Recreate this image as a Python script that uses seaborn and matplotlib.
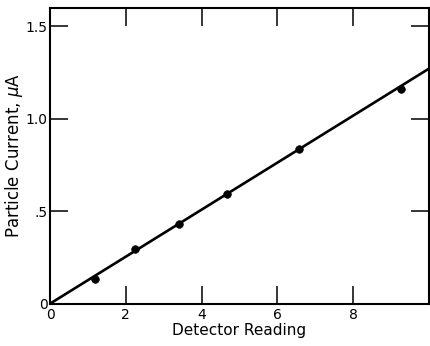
import matplotlib
matplotlib.use("Agg")
import matplotlib.pyplot as plt
import seaborn as sns
import pandas as pd

# Measured calibration points
detector_reading = [1.2, 2.25, 3.4, 4.66, 6.58, 9.25]
particle_current = [0.134, 0.296, 0.429, 0.595, 0.836, 1.159]

# Straight-line calibration through the origin
fit_x = [0.0, 10.0]
fit_y = [0.0, 1.272]

x_ticks = [0, 2, 4, 6, 8]
x_tick_labels = ["0", "2", "4", "6", "8"]
y_ticks = [0, 0.5, 1.0, 1.5]
y_tick_labels = ["0", ".5", "1.0", "1.5"]

sns.set_theme(style="ticks")
plt.rcParams["font.family"] = ["DejaVu Sans"]

fig = plt.figure(figsize=(4.3, 3.46), dpi=100)
ax = fig.add_axes([0.1163, 0.1223, 0.8814, 0.8546])

points = pd.DataFrame({"reading": detector_reading, "current": particle_current})
fit = pd.DataFrame({"reading": fit_x, "current": fit_y})

sns.lineplot(data=fit, x="reading", y="current", ax=ax, color="black",
             linewidth=1.9, clip_on=True)
sns.scatterplot(data=points, x="reading", y="current", ax=ax, color="black",
                s=30, edgecolor="black", linewidth=0.5, zorder=3)

ax.set_xlim(0, 10)
ax.set_ylim(0, 1.6)
ax.set_xticks(x_ticks)
ax.set_xticklabels(x_tick_labels)
ax.set_yticks(y_ticks)
ax.set_yticklabels(y_tick_labels)

for side in ["left", "right", "top", "bottom"]:
    ax.spines[side].set_visible(True)
    ax.spines[side].set_linewidth(1.5)
    ax.spines[side].set_color("black")

ax.tick_params(axis="both", which="major", direction="in", length=13, width=1.1,
               top=True, right=True, labelsize=10, color="black", labelcolor="black",
               pad=3)
ax.tick_params(axis="y", pad=1.5)

ax.set_xlabel("Detector Reading", fontsize=11, labelpad=1, color="black")
ax.set_ylabel(r"Particle Current, $\mu$A", fontsize=12, color="black")
ax.yaxis.set_label_coords(-0.065, 0.5)

fig.savefig("out.png", dpi=100)
